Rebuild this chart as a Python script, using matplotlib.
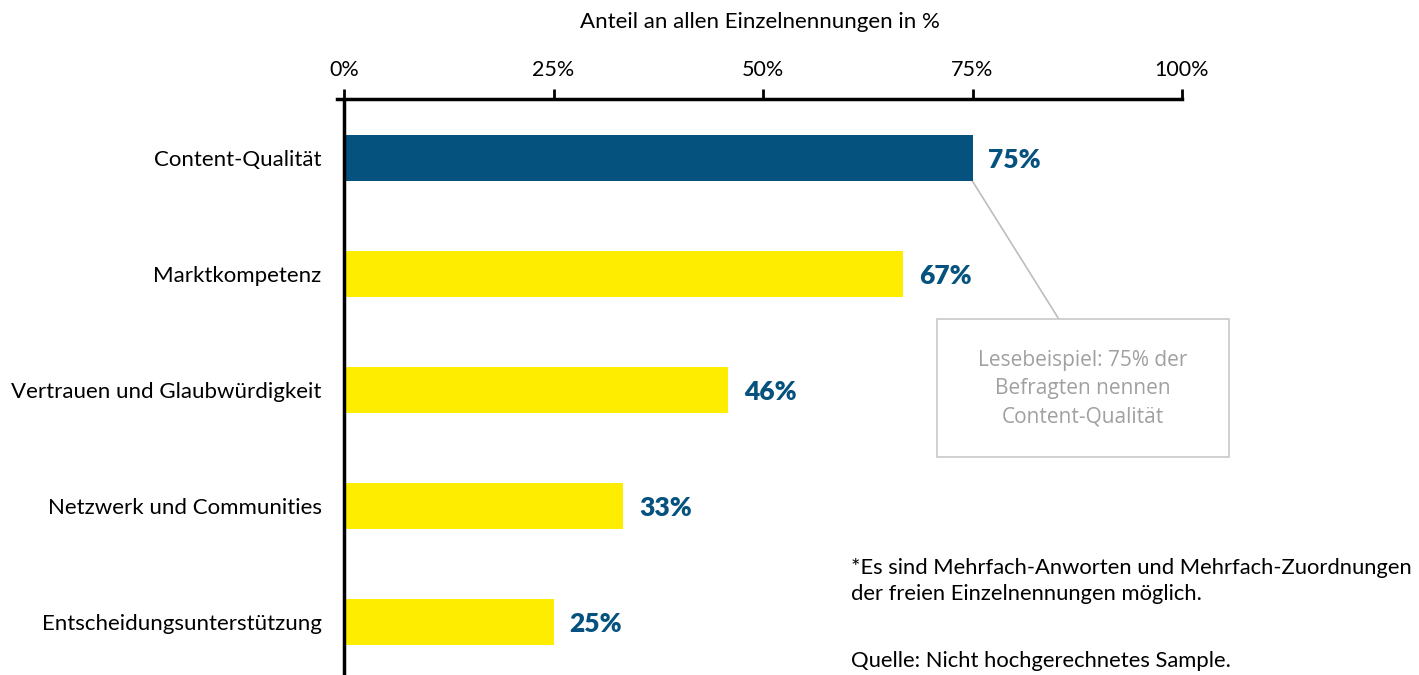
"""
Horizontal bar chart: Anteil an allen Einzelnennungen in %.
"""

import matplotlib
matplotlib.use("Agg")
import matplotlib.pyplot as plt
from matplotlib.patches import Rectangle

CATEGORIES = [
    'Content-Qualität',
    'Marktkompetenz',
    'Vertrauen und Glaubwürdigkeit',
    'Netzwerk und Communities',
    'Entscheidungsunterstützung',
]
VALUES = [75.0, 66.7, 45.8, 33.3, 25.0]
X_TICKS = [0, 25, 50, 75, 100]
X_TICK_LABELS = ['0%', '25%', '50%', '75%', '100%']

BLUE = '#05527e'
YELLOW = '#ffed00'
MAIN_FONT = ['Lato', 'DejaVu Sans']
NOTE_FONT = ['Open Sans', 'DejaVu Sans']


def create_plot(output_file='out.png'):
    plt.rcParams['font.family'] = MAIN_FONT

    fig = plt.figure(figsize=(14.19, 6.75), dpi=100)
    ax = fig.add_axes([0.2375, 0.0, 0.5955, 0.8533])

    colors = [BLUE] + [YELLOW] * (len(VALUES) - 1)
    ypos = list(range(len(CATEGORIES)))
    ax.barh(ypos, VALUES, height=0.4, color=colors, zorder=2)

    # value labels right of each bar
    for y, v in zip(ypos, VALUES):
        ax.text(v + 1.9, y + 0.02, f'{v:.0f}%', va='center', ha='left',
                fontsize=19, fontweight='heavy', color=BLUE)

    ax.set_xlim(-0.835, 100)
    ax.set_ylim(4.457, -0.509)

    # axis on top
    ax.xaxis.tick_top()
    ax.xaxis.set_label_position('top')
    ax.set_xticks(X_TICKS)
    ax.set_xticklabels(X_TICK_LABELS, fontsize=15.5)
    ax.tick_params(axis='x', direction='out', length=7, width=2,
                   pad=7, color='black')
    ax.set_xlabel('Anteil an allen Einzelnennungen in %', fontsize=16,
                  labelpad=23)

    ax.set_yticks(ypos)
    ax.set_yticklabels(CATEGORIES, fontsize=16)
    ax.tick_params(axis='y', length=0, pad=11)

    for side in ['left', 'right', 'bottom']:
        ax.spines[side].set_visible(False)
    ax.spines['top'].set_linewidth(2.5)
    ax.axvline(0, color='black', linewidth=2.5, zorder=3)

    # reading example box
    ax.plot([75, 85.3], [0.2, 1.388], color='#bdbdbd', linewidth=1.2,
            zorder=1, clip_on=False)
    ax.add_patch(Rectangle((70.8, 1.388), 34.8, 1.19, facecolor='white',
                           edgecolor='#c8c8c8', linewidth=1.2,
                           clip_on=False, zorder=4))
    ax.text(88.2, 1.99,
            'Lesebeispiel: 75% der\nBefragten nennen\nContent-Qualität',
            ha='center', va='center', fontsize=15, color='#a0a0a0',
            family=NOTE_FONT, linespacing=1.45, zorder=5, clip_on=False)

    # footnotes
    fig.text(0.5997, 0.139,
             '*Es sind Mehrfach-Anworten und Mehrfach-Zuordnungen\n'
             'der freien Einzelnennungen möglich.',
             ha='left', va='center', fontsize=15.8, linespacing=1.38)
    fig.text(0.5997, 0.0207, 'Quelle: Nicht hochgerechnetes Sample.',
             ha='left', va='center', fontsize=15.8)

    fig.savefig(output_file, dpi=100)


if __name__ == '__main__':
    create_plot()
